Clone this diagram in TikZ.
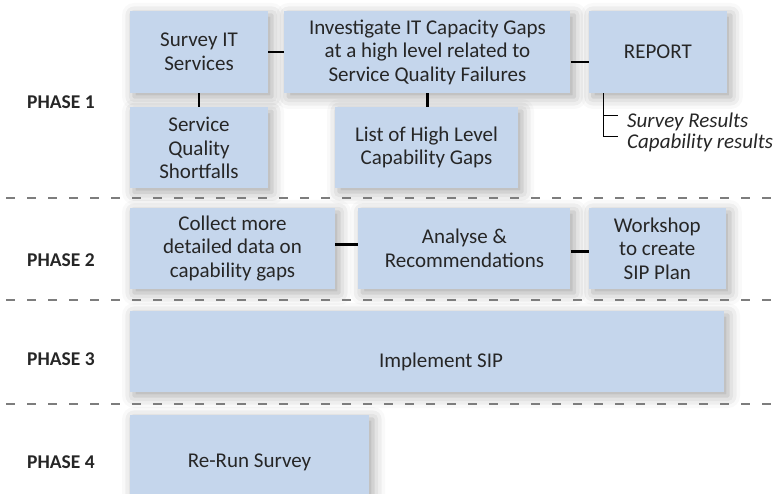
\documentclass[tikz,border=0pt]{standalone}
\usepackage{fontspec}
\setmainfont{Carlito}
\usetikzlibrary{positioning,shadows.blur}

\definecolor{boxfill}{RGB}{197,214,236}
\definecolor{txtgray}{RGB}{38,38,38}
\definecolor{sepgray}{RGB}{125,125,125}

\begin{document}
\begin{tikzpicture}[x=1pt,y=1pt,node distance=16pt,align=center,
		boxtext/.style={text=txtgray,font=\fontsize{21}{23.5}\selectfont},
		stage/.style={boxtext,fill=boxfill,inner sep=0pt,minimum height=81pt,
			blur shadow={shadow xshift=4pt,shadow yshift=-4pt,shadow blur radius=12pt,shadow opacity=35}},
		phase/.style={text=txtgray,font=\fontsize{19.5}{22}\selectfont\bfseries},
		result/.style={anchor=west,inner sep=0pt,text=txtgray,font=\fontsize{21}{23}\selectfont\itshape},
		link/.style={line width=2.5pt,black},
		sep/.style={sepgray,line width=1.2pt,dash pattern=on 9pt off 12pt}]
	\useasboundingbox (0,0) rectangle (775,493);

		\node[phase] (ph_1) at (61,391) {PHASE 1};
		\node[phase] (ph_2) at (61,233) {PHASE 2};
		\node[phase] (ph_3) at (61,134) {PHASE 3};
		\node[phase] (ph_4) at (61,31) {PHASE 4};

		\node[stage,minimum width=138pt,minimum height=82pt] (surv_it) at (199,441) {Survey IT\\Services};
		\node[stage,minimum width=286pt,minimum height=82pt] [right=of surv_it] (inv_gap) {Investigate IT Capacity Gaps\\at a high level related to\\Service Quality Failures};
		\node[stage,minimum width=138pt,minimum height=82pt] [right=18pt of inv_gap] (report) {REPORT};
		\node[stage,minimum width=138pt] [below=14pt of surv_it] (sq_short) {Service\\Quality\\Shortfalls};
		\node[stage,minimum width=183pt] (cap_gap) at (426.5,345.5) {List of High Level\\Capability Gaps};

		\node[stage,minimum width=205pt] (collect) at (232.5,244.5) {Collect more\\detailed data on\\capability gaps};
		\node[stage,minimum width=212pt] [right=23pt of collect] (analyse) {Analyse \&\\Recommendations};
		\node[stage,minimum width=137pt] [right=18pt of analyse] (workshop) {Workshop\\to create\\SIP Plan};

		\node[stage,minimum width=594pt,
			label={[boxtext,xshift=14pt,yshift=-10pt]center:Implement SIP}] (impl_sip) at (427,141.5) {};
		\node[stage,minimum width=239pt,minimum height=94pt] (rerun) at (249.5,31) {Re-Run Survey};

		\node[result] (res_survey) at (627,371) {Survey Results};
		\node[result] (res_cap) at (627,350) {Capability results};

		\draw[link] (surv_it) -- (inv_gap);
		\draw[link] ([yshift=-10pt]inv_gap.east) -- ([yshift=-10pt]report.west);
		\draw[link] (surv_it) -- (sq_short);
		\draw[link] (inv_gap.south) -- (inv_gap.south |- cap_gap.north);
		\draw[link] ([yshift=4pt]collect.east) -- ([yshift=4pt]analyse.west);
		\draw[link] ([yshift=-3pt]analyse.east) -- ([yshift=-3pt]workshop.west);

		\draw[line width=0.9pt] ([xshift=15pt]report.south west) |- ([shift={(-9pt,7pt)}]res_cap.west);
		\draw[line width=0.9pt] ([shift={(-24pt,7pt)}]res_survey.west) -- ++(15pt,0);

		\foreach \y in {295,193,89}
			\draw[sep] (6,\y) -- (775,\y);
	\end{tikzpicture}
\end{document}
